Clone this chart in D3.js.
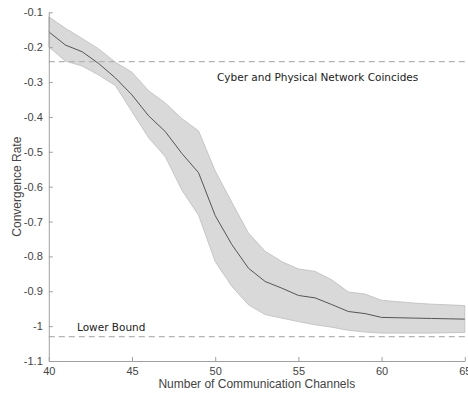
<!DOCTYPE html>
<html>
<head>
<meta charset="utf-8">
<script src="https://cdn.jsdelivr.net/npm/d3@7"></script>
<style>
  body { margin: 0; background: #fff; overflow: hidden; }
  svg { display: block; }
</style>
</head>
<body>
<div class="chart"></div>
<script>
// channels on the x axis
var channels = d3.range(40, 66)
var meanRate = [-0.156, -0.194, -0.213, -0.247, -0.288, -0.337, -0.397, -0.442, -0.505, -0.560,
  -0.683, -0.766, -0.834, -0.872, -0.891, -0.912, -0.919, -0.938, -0.958, -0.964,
  -0.975, -0.976, -0.977, -0.978, -0.979, -0.980]
var upperRate = [-0.113, -0.146, -0.175, -0.205, -0.243, -0.272, -0.325, -0.360, -0.405, -0.440,
  -0.555, -0.645, -0.733, -0.785, -0.815, -0.836, -0.843, -0.867, -0.902, -0.908,
  -0.926, -0.930, -0.934, -0.937, -0.939, -0.941]
var lowerRate = [-0.199, -0.240, -0.254, -0.280, -0.310, -0.385, -0.460, -0.514, -0.610, -0.682,
  -0.815, -0.886, -0.939, -0.967, -0.977, -0.987, -0.996, -1.003, -1.012, -1.017,
  -1.020, -1.020, -1.020, -1.020, -1.019, -1.018]
var xTicks = [40, 45, 50, 55, 60, 65]
var yTicks = [-0.1, -0.2, -0.3, -0.4, -0.5, -0.6, -0.7, -0.8, -0.9, -1, -1.1]
var upperBound = -0.2415, lowerBound = -1.03

var width = 468,
  height = 393,
  padL = 48.8, padR = 464.8, padT = 12.3, padB = 361

var svg = d3.select(".chart").append("svg")
  .attr("width", width)
  .attr("height", height)

var x = d3.scaleLinear().domain([40, 65]).range([padL, padR])
var y = d3.scaleLinear().domain([-1.1, -0.1]).range([padB, padT])

var rows = channels.map(function(c, i) {
  return { c: c, m: meanRate[i], hi: upperRate[i], lo: lowerRate[i] }
})

// shaded band
svg.append("path")
  .datum(rows)
  .attr("d", d3.area().x(d => x(d.c)).y0(d => y(d.lo)).y1(d => y(d.hi)))
  .attr("fill", "#d9d9d9")
  .attr("stroke", "#bcbcbc")
  .attr("stroke-width", 0.8)

svg.append("path")
  .datum(rows)
  .attr("d", d3.line().x(d => x(d.c)).y(d => y(d.m)))
  .attr("fill", "none")
  .attr("stroke", "#555")
  .attr("stroke-width", 1)

// reference lines
;[upperBound, lowerBound].forEach(function(v) {
  svg.append("line")
    .attr("x1", padL).attr("x2", padR)
    .attr("y1", y(v)).attr("y2", y(v))
    .attr("stroke", "#b4b4b4")
    .attr("stroke-width", 1.2)
    .attr("stroke-dasharray", "6,4")
})

svg.append("text")
  .attr("x", 217).attr("y", 81)
  .attr("font-family", "DejaVu Sans")
  .attr("font-size", 10.5)
  .attr("fill", "#222")
  .text("Cyber and Physical Network Coincides")

svg.append("text")
  .attr("x", 77).attr("y", 331)
  .attr("font-family", "DejaVu Sans")
  .attr("font-size", 10.5)
  .attr("fill", "#222")
  .text("Lower Bound")

// axes, ticks pointing inward
var xAxis = svg.append("g")
  .attr("transform", `translate(0,${padB})`)
  .call(d3.axisBottom(x).tickValues(xTicks).tickSizeInner(-4).tickSizeOuter(0).tickPadding(6))
var yAxis = svg.append("g")
  .attr("transform", `translate(${padL},0)`)
  .call(d3.axisLeft(y).tickValues(yTicks).tickSizeInner(-4).tickSizeOuter(0).tickPadding(6)
    .tickFormat(d => String(+d.toFixed(1))))

;[xAxis, yAxis].forEach(function(a) {
  a.selectAll(".domain").attr("stroke", "#a0a0a0")
  a.selectAll(".tick line").attr("stroke", "#a0a0a0")
  a.selectAll("text").attr("fill", "#444")
    .attr("font-family", "Liberation Sans, Arial, sans-serif").attr("font-size", 11)
})

svg.append("text")
  .attr("x", (padL + padR) / 2).attr("y", 388)
  .attr("text-anchor", "middle")
  .attr("font-family", "Liberation Sans, Arial, sans-serif")
  .attr("font-size", 12)
  .attr("fill", "#444")
  .text("Number of Communication Channels")

svg.append("text")
  .attr("transform", `translate(21,${(padT + padB) / 2}) rotate(-90)`)
  .attr("text-anchor", "middle")
  .attr("font-family", "Liberation Sans, Arial, sans-serif")
  .attr("font-size", 12)
  .attr("fill", "#444")
  .text("Convergence Rate")
</script>
</body>
</html>
